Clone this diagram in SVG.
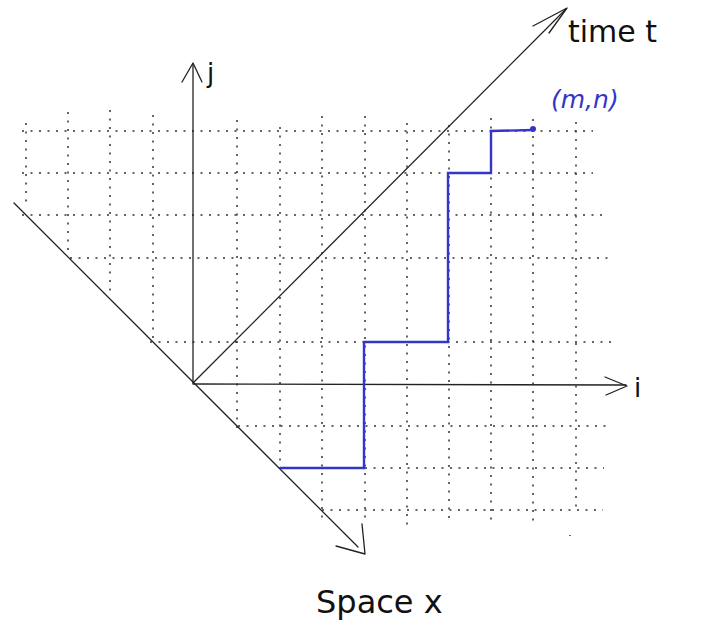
<svg xmlns="http://www.w3.org/2000/svg" width="712" height="622" viewBox="0 0 712 622">
<style>
.grid{stroke:#333;stroke-width:1.5;stroke-dasharray:2 6.5;fill:none}
.ax{stroke:#222;stroke-width:1.3;fill:none;stroke-linecap:round;stroke-linejoin:round}
.hand{font-family:"DejaVu Sans","Liberation Sans",sans-serif;font-weight:normal;fill:#111}
.blue{stroke:#3535c8;stroke-width:2.4;fill:none}
</style>
<rect width="712" height="622" fill="#fff"/>
<g id="grid" class="grid">
<line x1="22" y1="131" x2="593" y2="131"/>
<line x1="22" y1="173" x2="593" y2="173"/>
<line x1="22" y1="215" x2="602" y2="215"/>
<line x1="70" y1="258" x2="608" y2="258"/>
<line x1="150" y1="342" x2="612" y2="342"/>
<line x1="238" y1="426" x2="606" y2="426"/>
<line x1="280" y1="468" x2="604" y2="468"/>
<line x1="322" y1="510" x2="603" y2="510"/>
<line x1="26" y1="123" x2="26" y2="205"/>
<line x1="68" y1="112" x2="68" y2="252"/>
<line x1="110" y1="110" x2="110" y2="295"/>
<line x1="153" y1="115" x2="153" y2="338"/>
<line x1="237" y1="120" x2="237" y2="428"/>
<line x1="280" y1="127" x2="280" y2="468"/>
<line x1="322" y1="116" x2="322" y2="520"/>
<line x1="365" y1="116" x2="365" y2="520"/>
<line x1="407" y1="123" x2="407" y2="527"/>
<line x1="449" y1="125" x2="449" y2="520"/>
<line x1="491" y1="118" x2="491" y2="522"/>
<line x1="533" y1="119" x2="533" y2="523"/>
<line x1="576" y1="122" x2="576" y2="513"/>
<line x1="570" y1="535" x2="570" y2="536"/>
</g>
<g id="connectors">
<g id="axis-j" class="ax">
<line x1="193" y1="383" x2="193" y2="64"/>
<polyline points="182,82 193,63 202,82"/>
</g>
<g id="axis-i" class="ax">
<line x1="193" y1="384" x2="626" y2="385"/>
<polyline points="605,377 627,386 606,395"/>
</g>
<g id="axis-time" class="ax">
<line x1="193" y1="383" x2="566" y2="9"/>
<polyline points="533,26 567,8 549,33"/>
</g>
<g id="axis-space" class="ax">
<line x1="14" y1="203" x2="358" y2="547"/>
<polyline points="336,546 365,554 362,524"/>
</g>
</g>
<g id="path" class="blue">
<polyline points="280,468 364,468 364,342 448,342 448,173 491,173 491,131 533,130"/>
<circle cx="533" cy="129" r="3" fill="#3535c8" stroke="none"/>
</g>
<g id="label-time"><text class="hand" x="568" y="42" font-size="30" font-weight="300">time t</text></g>
<g id="label-j"><text class="hand" x="207" y="82" font-size="26">j</text></g>
<g id="label-mn"><text class="hand" x="551" y="108" font-size="25" style="fill:#3535c8;font-style:italic">(m,n)</text></g>
<g id="label-i"><text class="hand" x="634" y="397" font-size="26">i</text></g>
<g id="label-space"><text class="hand" x="316" y="613" font-size="32" font-weight="300">Space x</text></g>
</svg>
